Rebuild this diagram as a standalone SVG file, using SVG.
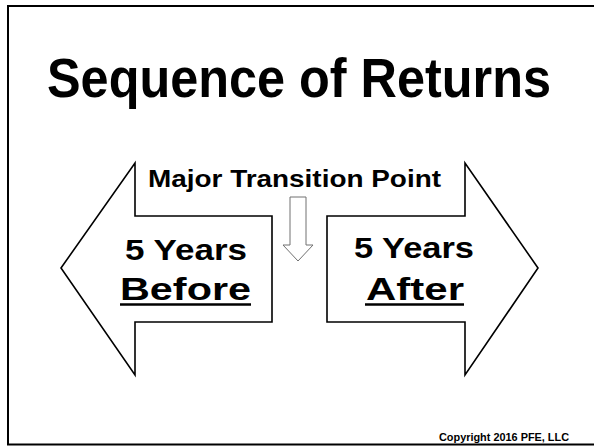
<svg xmlns="http://www.w3.org/2000/svg" width="594" height="447" viewBox="0 0 594 447">
  <style>
    .big { fill: #fff; stroke: #000; stroke-width: 1.6; stroke-linejoin: miter; }
    .small { fill: #fff; stroke: #707070; stroke-width: 1; }
    text { font-family: "Liberation Sans", Arial, sans-serif; font-weight: bold; fill: #000; }
    .title { font-size: 56px; }
    .label { font-size: 24px; }
    .years { font-size: 29px; }
    .word { font-size: 31px; }
    .copy { font-size: 11px; }
    .ul { stroke: #000; stroke-width: 2.5; }
  </style>
  <rect width="594" height="447" fill="#fff"/>
  <!-- slide frame -->
  <rect x="8" y="6" width="600" height="438.5" fill="none" stroke="#000" stroke-width="2"/>

  <g id="title">
    <text class="title" transform="translate(47 97) scale(0.9 1)" x="0" y="0">Sequence of Returns</text>
  </g>

  <g id="transition">
    <text class="label" x="148" y="187" textLength="293" lengthAdjust="spacingAndGlyphs">Major Transition Point</text>
  </g>

  <g id="connectors">
    <polygon class="small" points="290,197 306,197 306,245 313,245 298,261 283,245 290,245"/>
  </g>

  <g id="before">
    <polygon class="big" points="61,268 135,163 135,216 272,216 272,322 135,322 135,375"/>
    <text class="years" x="125" y="260" textLength="122" lengthAdjust="spacingAndGlyphs">5 Years</text>
    <text class="word" x="120" y="300" textLength="131" lengthAdjust="spacingAndGlyphs">Before</text>
    <line class="ul" x1="120" y1="304.5" x2="251" y2="304.5"/>
  </g>

  <g id="after">
    <polygon class="big" points="538,268 465,163 465,216 327,216 327,322 465,322 465,375"/>
    <text class="years" x="354" y="258" textLength="120" lengthAdjust="spacingAndGlyphs">5 Years</text>
    <text class="word" x="366" y="300" textLength="98" lengthAdjust="spacingAndGlyphs">After</text>
    <line class="ul" x1="365" y1="304.5" x2="464" y2="304.5"/>
  </g>

  <g id="copyright">
    <text class="copy" x="439" y="441" textLength="130" lengthAdjust="spacingAndGlyphs">Copyright 2016 PFE, LLC</text>
  </g>
</svg>
